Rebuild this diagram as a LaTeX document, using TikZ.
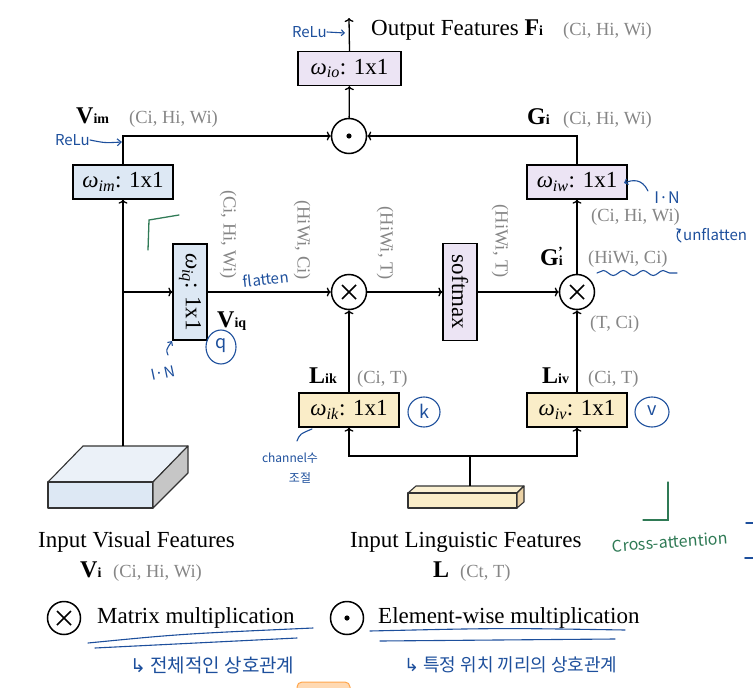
\documentclass[tikz,border=0pt]{standalone}
\usepackage{fontspec}
\setmainfont{Liberation Serif}
\newfontfamily\hand{Noto Sans CJK KR}
\newfontfamily\symf{DejaVu Sans}
\usetikzlibrary{arrows.meta,decorations.pathmorphing}
\definecolor{lav}{HTML}{ECE4F4}
\definecolor{lblue}{HTML}{DDE8F4}
\definecolor{lyel}{HTML}{FAEDC8}
\definecolor{gtxt}{HTML}{868686}
\definecolor{inkblue}{HTML}{1D4F9C}
\definecolor{inkgreen}{HTML}{2F7A55}
\newcommand\fs[1]{\fontsize{#1}{#1}\selectfont}
\newcommand\wlab[1]{\textit{ω}\textsubscript{\textit{#1}}: 1x1}
\newcommand\blab[2]{{\bfseries\fs{24}#1\fs{14}#2}}
\begin{document}
\begin{tikzpicture}[x=1pt,y=-1pt,
  box/.style={draw, line width=1.3pt, minimum width=100pt, minimum height=34pt, inner sep=0pt, font=\fs{23}},
  ln/.style={line width=1.3pt},
  arr/.style={line width=1.3pt, -{To[length=4pt,width=9pt]}},
  opx/.style={circle, draw, line width=1.5pt, minimum size=35pt, inner sep=0pt,
    path picture={\draw[line width=1.5pt]
      ([shift={(-7,-7)}]path picture bounding box.center) -- ([shift={(7,7)}]path picture bounding box.center)
      ([shift={(-7,7)}]path picture bounding box.center) -- ([shift={(7,-7)}]path picture bounding box.center);}},
  opd/.style={circle, draw, line width=1.5pt, minimum size=35pt, inner sep=0pt,
    path picture={\fill (path picture bounding box.center) circle (2.6pt);}},
  dim/.style={text=gtxt, font=\fs{18.5}, inner sep=0pt, anchor=base west},
  lab/.style={font=\fs{23}, inner sep=0pt, anchor=base west},
  note/.style={text=inkblue, font=\hand\fs{15}, inner sep=0pt},
  inkln/.style={draw=inkblue, line width=1.1pt, line cap=round},
  solid3d/.style={draw=black!80, line width=1.1pt, line join=round},
]
\useasboundingbox (0,0) rectangle (753,688);

% ---------- boxes ----------
\node[box, fill=lav, minimum width=103pt] (io) at (349.5,68.5) {\wlab{io}};
\node[box, fill=lblue] (im) at (123,182) {\wlab{im}};
\node[box, fill=lav] (iw) at (577,182) {\wlab{iw}};
\node[box, fill=lblue, rotate=-90, minimum width=96pt, minimum height=34pt] (iq) at (190,292) {\wlab{iq}};
\node[box, fill=lav, rotate=-90, minimum width=97pt, minimum height=34pt] (sm) at (460,292) {softmax};
\node[box, fill=lyel] (ik) at (349,410) {\wlab{ik}};
\node[box, fill=lyel] (iv) at (577,410) {\wlab{iv}};

% ---------- operators ----------
\node[opd] (dot) at (349,136) {};
\node[opx] (m1) at (349,292) {};
\node[opx] (m2) at (577,292) {};

% ---------- 3D inputs ----------
\fill[lblue!60!white] (48,482) -- (83,446) -- (188,446) -- (153,482) -- cycle;
\draw[solid3d] (48,482) -- (83,446) -- (188,446) -- (153,482) -- cycle;
\draw[solid3d, fill=lblue] (48,482) rectangle (153,508);
\draw[solid3d, fill=gray!45] (153,482) -- (188,446) -- (188,473) -- (153,508) -- cycle;

\draw[solid3d, fill=lyel!80!white] (408,493) -- (416,486) -- (524,486) -- (517,493) -- cycle;
\draw[solid3d, fill=lyel] (408,493) rectangle (517,508);
\draw[solid3d, fill=lyel!75!brown] (517,493) -- (524,486) -- (524,502) -- (517,508) -- cycle;

\coordinate (otop) at (349,18);
\coordinate (ctop) at (123,446);
\coordinate (br) at (123,292);
\coordinate (btop) at (470,486);
\coordinate (lj) at (470,456);

% ---------- connectors ----------
\draw[arr] (io.north) -- (otop);
\draw[arr] (dot) -- (io);
\draw[arr] (im.north) |- (dot.west);
\draw[arr] (iw.north) |- (dot.east);
\draw[arr] (ctop) -- (im.south);
\draw[arr] (br) -- (iq);
\draw[arr] (iq) -- (m1);
\draw[arr] (m1) -- (sm);
\draw[arr] (sm) -- (m2);
\draw[arr] (m2) -- (iw);
\draw[arr] (ik) -- (m1);
\draw[arr] (iv) -- (m2);
\draw[ln] (btop) -- (lj);
\draw[arr] (lj) -| (ik.south);
\draw[arr] (lj) -| (iv.south);

% ---------- labels ----------
\node[lab] (tout) at (371,35) {Output Features \blab{F}{i}};
\node[dim] (dout) at (563,35) {(Ci, Hi, Wi)};
\node[lab] (tvim) at (76,123) {\blab{V}{im}};
\node[dim] (dvim) at (129,123) {(Ci, Hi, Wi)};
\node[lab] (tgi) at (527,124) {\blab{G}{i}};
\node[dim] (dgi) at (563,124) {(Ci, Hi, Wi)};
\node[dim] (dgw) at (591,221) {(Ci, Hi, Wi)};
\node[lab] (tgp) at (540,265) {{\bfseries\fs{24}G\fs{14}i\llap{\raisebox{9pt}{'}}}};
\node[dim] (dgp) at (588,263) {(HiWi, Ci)};
\node[dim] (dtc) at (590,328) {(T, Ci)};
\node[lab] (tviq) at (217,327) {\blab{V}{iq}};
\node[lab] (tlik) at (309,383) {\blab{L}{ik}};
\node[dim] (dlik) at (357,383) {(Ci, T)};
\node[lab] (tliv) at (542,383) {\blab{L}{iv}};
\node[dim] (dliv) at (588,383) {(Ci, T)};
\node[dim, rotate=-90, anchor=east] (r1) at (228,279) {(Ci, Hi, Wi)};
\node[dim, rotate=-90, anchor=east] (r2) at (302,280) {(HiWi, Ci)};
\node[dim, rotate=-90, anchor=east] (r3) at (385,280) {(HiWi, T)};
\node[dim, rotate=-90, anchor=east] (r4) at (500,278) {(HiWi, T)};

\node[lab] (tvis) at (38,547) {Input Visual Features};
\node[lab] (tvi) at (80,577) {\blab{V}{i}};
\node[dim] (dvi) at (113,577) {(Ci, Hi, Wi)};
\node[lab] (tlin) at (350,547) {Input Linguistic Features};
\node[lab] (tl) at (433,577) {{\bfseries\fs{24}L}};
\node[dim] (dl) at (460,577) {(Ct, T)};

% ---------- legend ----------
\node[opx, minimum size=33pt] (lm) at (64,618) {};
\node[lab] (tlm) at (97,623) {Matrix multiplication};
\node[opd, minimum size=33pt] (ld) at (347,618) {};
\node[lab] (tld) at (378,623) {Element-wise multiplication};

% ---------- handwritten notes ----------
\node[note, anchor=east] (n1) at (327,32) {ReLu};
\draw[inkln, -{Straight Barb[length=3pt,width=6pt]}] (n1.east) -- (345,33);
\node[note, anchor=east] (n2) at (90,140) {ReLu};
\draw[inkln, -{Straight Barb[length=4pt,width=7pt]}] (n2.east) .. controls (105,143) .. (122,142);
\draw[draw=inkgreen, line width=1.3pt, line cap=round] (148,250) -- (149,220) -- (179,215);
\node[note, rotate=6] (n3) at (266,279) {flatten};
\draw[inkln, -{Straight Barb[length=3pt,width=6pt]}] (168,355) .. controls (166,350) .. (172,341);
\node[note, rotate=12] (n4) at (163,373) {I·N};
\draw[inkln] (221,347) ellipse (15pt and 17pt);
\node[note, font=\hand\fs{18}] (n5) at (221,346) {q};
\draw[inkln, -{Straight Barb[length=3pt,width=6pt]}] (648,191) .. controls (642,178) and (632,180) .. (624,183);
\node[note, font=\hand\fs{16}] (n6) at (667,198) {I·N};
\draw[inkln, -{Straight Barb[length=3pt,width=5pt]}] (681,242) .. controls (676,240) and (676,232) .. (681,229);
\node[note, anchor=west] (n7) at (683,235) {unflatten};
\draw[inkln, decorate, decoration={snake, amplitude=2.5pt, segment length=20pt}] (597,273) -- (677,273);
\draw[inkln] (424,412) ellipse (16pt and 15pt);
\node[note, font=\hand\fs{18}] (n8) at (424,411) {k};
\draw[inkln] (652,412) ellipse (17pt and 15pt);
\node[note, font=\hand\fs{18}] (n9) at (652,411) {v};
\draw[inkln] (312,429) .. controls (300,434) .. (297,441);
\node[note, font=\hand\fs{12}] (n10) at (290,458) {channel수};
\node[note, font=\hand\fs{12}] (n11) at (300,478) {조절};
\draw[draw=inkgreen, line width=1.3pt, line cap=round] (668,482) -- (668,520) -- (643,520);
\node[note, text=inkgreen, rotate=4, font=\hand\fs{16}] (n12) at (670,542) {Cross-attention};
\draw[inkln, line width=1.5pt] (746,523) -- (753,523);
\draw[inkln, line width=2pt] (745,558) -- (753,558);

\draw[inkln] (88,643) .. controls (180,634) .. (313,628);
\draw[inkln] (95,648) -- (297,638);
\draw[inkln] (370,631) .. controls (500,628) .. (625,630);
\draw[inkln] (380,641) -- (615,639);
\node[note, anchor=west, font=\hand\fs{19}] (n13) at (130,665) {{\symf ↳} 전체적인 상호관계};
\node[note, anchor=west, font=\hand\fs{18}] (n14) at (404,665) {{\symf ↳} 특정 위치 끼리의 상호관계};

\draw[draw=orange!70, fill=orange!30, line width=1pt, rounded corners=5pt] (297,682) rectangle (350,700);
\end{tikzpicture}
\end{document}
